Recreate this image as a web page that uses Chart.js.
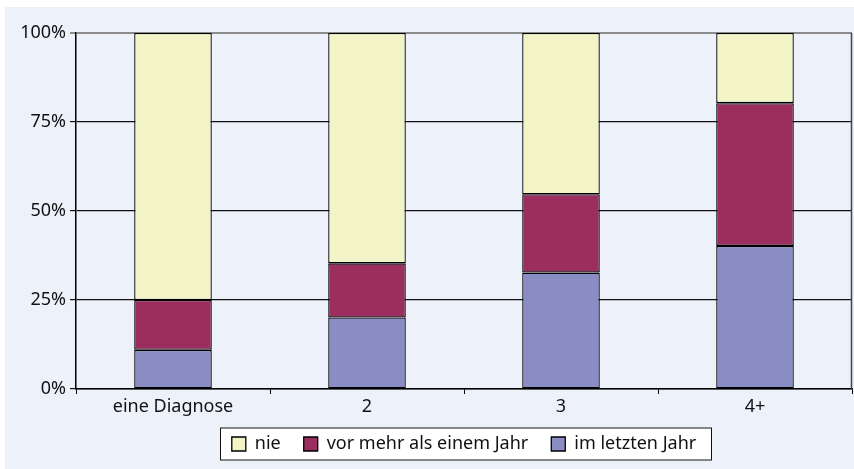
<!DOCTYPE html>
<html>
<head>
<meta charset="utf-8">
<script src="https://cdn.jsdelivr.net/npm/chart.js@4.4.1/dist/chart.umd.min.js"></script>
<style>
  html, body { margin: 0; padding: 0; background: #ffffff; }
  #panel {
    position: absolute; left: 5px; top: 7px;
    width: 849px; height: 462px;
    background: #edf1fa;
  }
</style>
</head>
<body>
<div id="panel"><canvas id="chart"></canvas></div>
<script>
// Anteile je Anzahl der Diagnosen (in %)
const categories = ['eine Diagnose', '2', '3', '4+'];
const imLetztenJahr = [11, 20.1, 32.7, 40.2];
const vorMehrAlsEinemJahr = [14, 15.2, 22, 40.1];
const nie = [75, 64.7, 45.3, 19.7];
const yTicks = [0, 25, 50, 75, 100];

const FONT = "'Noto Sans', sans-serif";

// white box around the legend
const legendFrame = {
  id: 'legendFrame',
  beforeDraw(chart) {
    const hb = chart.legend && chart.legend.legendHitBoxes;
    if (!hb || !hb.length) return;
    const ctx = chart.ctx;
    const left = Math.round(Math.min(...hb.map(h => h.left)) - 12);
    const right = Math.round(Math.max(...hb.map(h => h.left + h.width)) + 16);
    const mid = Math.round(hb[0].top + hb[0].height / 2);
    ctx.save();
    ctx.fillStyle = '#ffffff';
    ctx.strokeStyle = '#111111';
    ctx.lineWidth = 1;
    ctx.fillRect(left, mid - 16.5, right - left, 33);
    ctx.strokeRect(left + 0.5, mid - 16, right - left - 1, 32);
    ctx.restore();
  }
};

// right-hand frame line of the plot area
const rightEdge = {
  id: 'rightEdge',
  afterDraw(chart) {
    const { ctx, chartArea } = chart;
    ctx.save();
    ctx.strokeStyle = '#444444';
    ctx.lineWidth = 1.5;
    ctx.beginPath();
    ctx.moveTo(chartArea.right - 0.5, chartArea.top);
    ctx.lineTo(chartArea.right - 0.5, chartArea.bottom);
    ctx.stroke();
    ctx.restore();
  }
};

const barStyle = {
  borderColor: '#000000',
  borderWidth: 1.3,
  borderSkipped: false,
  categoryPercentage: 0.8,
  barPercentage: 0.5
};

new Chart(document.getElementById('chart'), {
  type: 'bar',
  data: {
    labels: categories,
    datasets: [
      { label: 'im letzten Jahr', data: imLetztenJahr, backgroundColor: '#8a8dc3', ...barStyle },
      { label: 'vor mehr als einem Jahr', data: vorMehrAlsEinemJahr, backgroundColor: '#9c2d5f', ...barStyle },
      { label: 'nie', data: nie, backgroundColor: '#f2f4c8', ...barStyle }
    ]
  },
  options: {
    responsive: true,
    maintainAspectRatio: false,
    animation: false,
    layout: { padding: { top: 26, right: 2, left: 0, bottom: 6 } },
    plugins: {
      tooltip: { enabled: false },
      legend: {
        position: 'bottom',
        fullSize: false,
        reverse: true,
        labels: {
          boxWidth: 14,
          boxHeight: 14,
          padding: 23,
          color: '#111111',
          font: { family: FONT, size: 18 }
        }
      }
    },
    scales: {
      x: {
        stacked: true,
        afterFit: s => {
          s.height = 23;
          s._computeLabelArea = () => undefined; // let labels spill below the axis box
        },
        border: { color: '#000000', width: 1.5 },
        grid: { drawOnChartArea: false, tickLength: 5, color: '#000000' },
        ticks: { padding: 2, color: '#111111', font: { family: FONT, size: 18 } }
      },
      y: {
        stacked: true,
        min: 0,
        max: 100,
        afterFit: s => { s.width = 71; },
        afterBuildTicks: s => { s.ticks = yTicks.map(v => ({ value: v })); },
        border: { color: '#000000', width: 1.5 },
        grid: {
          tickLength: 6,
          color: c => (c.tick && c.tick.value === 100 ? '#8c8c8c' : '#111111'),
          lineWidth: c => (c.tick && c.tick.value === 100 ? 2 : 1.2)
        },
        ticks: {
          padding: 4,
          color: '#111111',
          font: { family: FONT, size: 18 },
          callback: v => v + '%'
        }
      }
    }
  },
  plugins: [legendFrame, rightEdge]
});
</script>
</body>
</html>
